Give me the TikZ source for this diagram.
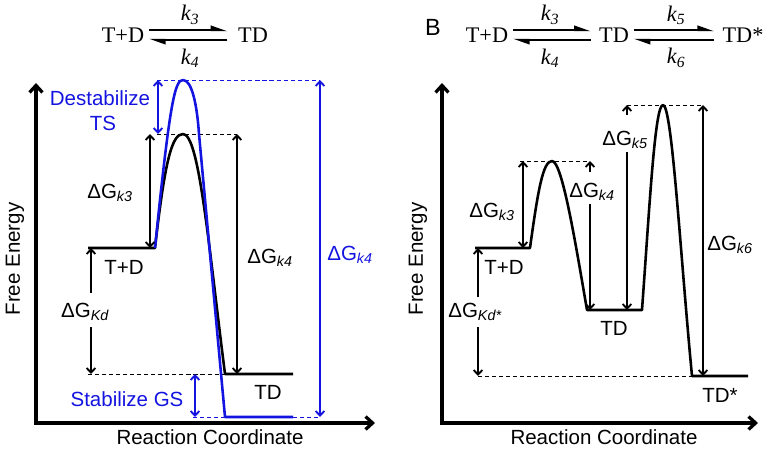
\documentclass[tikz,border=0pt]{standalone}
\usepackage{fontspec}
\setmainfont{Liberation Sans}
\newfontfamily\timesfont{Liberation Serif}
\usepackage{xcolor}
\usetikzlibrary{arrows.meta}

\definecolor{gsblue}{RGB}{20,20,225}

\tikzset{
  axis/.style={line width=2.8pt, line join=miter, {Straight Barb[length=6pt,width=11pt]}-{Straight Barb[length=6pt,width=11pt]}},
  curve/.style={line width=2.2pt, line join=round},
  guide/.style={line width=0.7pt, dash pattern=on 3.5pt off 2.5pt},
  both/.style={line width=1.6pt, {Straight Barb[length=4pt,width=7.5pt]}-{Straight Barb[length=4pt,width=7.5pt]}},
  one/.style={line width=1.6pt, -{Straight Barb[length=4pt,width=7.5pt]}},
  lbl/.style={font=\fontsize{17.5}{20}\selectfont, inner sep=1pt},
  scheme/.style={font=\timesfont\fontsize{19}{22}\selectfont, inner xsep=4pt},
  fwd/.style={line width=1.5pt, -{Stealth[harpoon, length=12pt, width=8pt, inset=0pt]}}
}

\newcommand{\dG}[1]{ΔG\textsubscript{\itshape #1}}

\begin{document}
\begin{tikzpicture}[x=0.03cm, y=-0.03cm]
\useasboundingbox (0,0) rectangle (771,451);

% ---------------- panel A ----------------
\node[scheme] (aTD) at (123,35) {T+D};
\node[scheme] (aC) at (253,35) {TD};
\draw[fwd, shorten >=5pt] ([yshift=4pt]aTD.east) -- ([yshift=4pt]aC.west);
\draw[fwd, shorten <=5pt] ([yshift=-4pt]aC.west) -- ([yshift=-4pt]aTD.east);
\node[scheme] (ak3) at (190,15) {\itshape k\textsubscript{3}};
\node[scheme] (ak4) at (190,58) {\itshape k\textsubscript{4}};

% axes
\coordinate (aO) at (36,423);
\coordinate (aYend) at (36,83);
\coordinate (aXend) at (375,423);
\draw[axis] (aYend) -- (aO) -- (aXend);
\node[lbl, rotate=90] (aFE) at (15,259) {Free Energy};
\node[lbl] (aRC) at (210,437) {Reaction Coordinate};

% levels
\coordinate (aR1) at (88,248);
\coordinate (aR2) at (155,248);
\coordinate (aTS) at (183,134);
\coordinate (aP1) at (225,374);
\coordinate (aP2) at (293,374);
\coordinate (bTS) at (183,80);
\coordinate (bP1) at (225,417);
\coordinate (bP2) at (293,417);

% guide lines
\draw[guide] (157,134) coordinate (aG1) -- (237,134) coordinate (aG2);
\draw[guide] (88,374) coordinate (aG3) -- (aP1);
\draw[guide, gsblue] (157,80) coordinate (bG1) -- (320,80) coordinate (bG2);
\draw[guide, gsblue] (193,417) coordinate (bG3) -- (bP1);
\draw[guide, gsblue] (bP2) -- (320,417) coordinate (bG4);

% black profile
\draw[curve] (aR1) -- (aR2) .. controls (165,160) and (172,134) .. (aTS)
  .. controls (199,134) and (208,240) .. (aP1) -- (aP2);
% blue profile
\draw[curve, gsblue] (aR2) .. controls (170,100) and (175,80) .. (bTS)
  .. controls (192,80) and (197,105) .. (199,134) -- (bP1) -- (bP2);

% energy gaps
\draw[both, gsblue] (158,80) coordinate (aD1) -- (158,134) coordinate (aD2);
\draw[both] (150,134) coordinate (ak3a) -- (150,248) coordinate (ak3b);
\draw[both] (aG2) -- (237,374) coordinate (ak4b);
\draw[both, gsblue] (bG2) -- (bG4);
\draw[both, gsblue] (195,374) coordinate (aS1) -- (195,417) coordinate (aS2);
\coordinate (aKa) at (91,293);
\coordinate (aKb) at (91,327);
\draw[one] (aKa) -- (aKa |- aR1);
\draw[one] (aKb) -- (aKb |- aP1);

% labels
\node[lbl, gsblue] (aDest) at (100,98) {Destabilize};
\node[lbl, gsblue] (aTSl) at (103,123) {TS};
\node[lbl] (aLk3) at (110,193) {\dG{k3}};
\node[lbl] (aLk4) at (270,258) {\dG{k4}};
\node[lbl, gsblue] (bLk4) at (350,255) {\dG{k4}};
\node[lbl] (aLKd) at (85,312) {\dG{Kd}};
\node[lbl] (aLR) at (124,267) {T+D};
\node[lbl] (aLP) at (268,392) {TD};
\node[lbl, gsblue] (aStab) at (127,399) {Stabilize GS};

% ---------------- panel B ----------------
\node[font=\fontsize{20}{24}\selectfont] (bLabel) at (433,27) {B};
\node[scheme] (rTD) at (487,35) {T+D};
\node[scheme] (rC) at (614,35) {TD};
\node[scheme] (rS) at (743,35) {TD*};
\draw[fwd, shorten >=3pt] ([yshift=4pt]rTD.east) -- ([yshift=4pt]rC.west);
\draw[fwd, shorten <=3pt] ([yshift=-4pt]rC.west) -- ([yshift=-4pt]rTD.east);
\draw[fwd, shorten >=3pt] ([yshift=4pt]rC.east) -- ([yshift=4pt]rS.west);
\draw[fwd, shorten <=3pt] ([yshift=-4pt]rS.west) -- ([yshift=-4pt]rC.east);
\node[scheme] (rk3) at (550,15) {\itshape k\textsubscript{3}};
\node[scheme] (rk4) at (550,58) {\itshape k\textsubscript{4}};
\node[scheme] (rk5) at (676,15) {\itshape k\textsubscript{5}};
\node[scheme] (rk6) at (676,58) {\itshape k\textsubscript{6}};

% axes
\coordinate (rO) at (442,423);
\coordinate (rYend) at (442,83);
\coordinate (rXend) at (758,423);
\draw[axis] (rYend) -- (rO) -- (rXend);
\node[lbl, rotate=90] (rFE) at (418,259) {Free Energy};
\node[lbl] (rRC) at (604,437) {Reaction Coordinate};

% levels
\coordinate (rR1) at (475,248);
\coordinate (rR2) at (530,248);
\coordinate (rTS1) at (552,161);
\coordinate (rI1) at (587,310);
\coordinate (rI2) at (642,310);
\coordinate (rTS2) at (663,105);
\coordinate (rP1) at (692,376);
\coordinate (rP2) at (748,376);

% guide lines
\draw[guide] (520,161) coordinate (rG1) -- (590,161) coordinate (rG2);
\draw[guide] (627,105) coordinate (rG3) -- (703,105) coordinate (rG4);
\draw[guide] (478,376) coordinate (rG5) -- (rP1);

% profile
\draw[curve] (rR1) -- (rR2) .. controls (538,190) and (543,161) .. (rTS1)
  .. controls (562,161) and (575,240) .. (rI1) -- (rI2)
  .. controls (650,200) and (655,105) .. (rTS2)
  .. controls (672,105) and (680,250) .. (rP1) -- (rP2);

% energy gaps
\draw[both] (523,161) coordinate (rk3a) -- (523,248) coordinate (rk3b);
\draw[both] (rG4) -- (703,376) coordinate (rk6b);
\coordinate (rk4a) at (590,172);
\coordinate (rk4b) at (590,204);
\draw[one] (rk4a) -- (rG2);
\draw[one] (rk4b) -- (rk4b |- rI1);
\coordinate (rk5a) at (627,115);
\coordinate (rk5b) at (627,152);
\draw[one] (rk5a) -- (rG3);
\draw[one] (rk5b) -- (rk5b |- rI1);
\coordinate (rKa) at (478,297);
\coordinate (rKb) at (478,327);
\draw[one] (rKa) -- (rKa |- rR1);
\draw[one] (rKb) -- (rG5);

% labels
\node[lbl] (rLk3) at (492,212) {\dG{k3}};
\node[lbl] (rLk4) at (592,192) {\dG{k4}};
\node[lbl] (rLk5) at (625,140) {\dG{k5}};
\node[lbl] (rLk6) at (730,245) {\dG{k6}};
\node[lbl] (rLKd) at (475,312) {\dG{Kd*}};
\node[lbl] (rLR) at (504,267) {T+D};
\node[lbl] (rLI) at (614,328) {TD};
\node[lbl] (rLP) at (720,395) {TD*};
\end{tikzpicture}
\end{document}
